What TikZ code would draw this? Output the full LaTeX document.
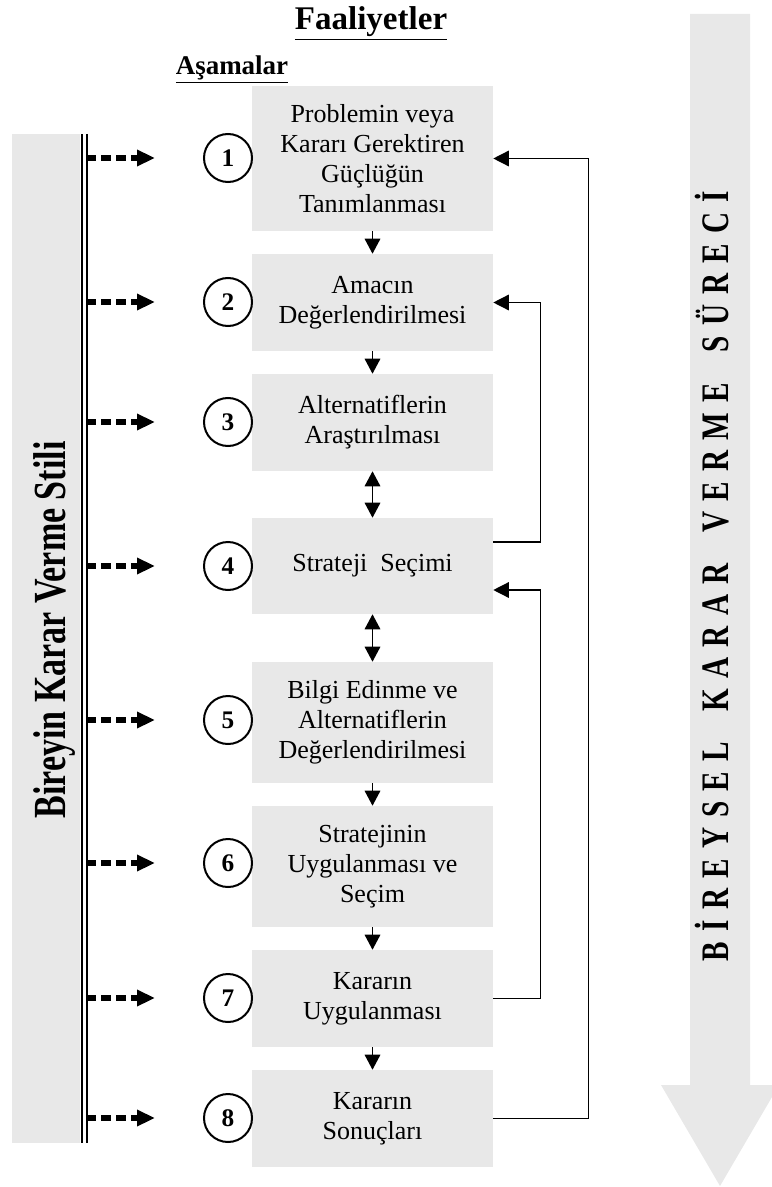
\documentclass[tikz,border=0pt]{standalone}
\usepackage{fontspec}
\setmainfont{Liberation Serif}
\usepackage{tikz}
\usetikzlibrary{arrows.meta, calc}
\definecolor{panel}{HTML}{E8E8E8}

\begin{document}
\begin{tikzpicture}[
  x=0.25mm, y=-0.25mm,
  stage/.style={rectangle, fill=panel, minimum width=60.25mm, inner sep=0pt, align=center,
                font=\fontsize{18.5}{21.3}\selectfont},
  numc/.style={circle, draw, line width=0.5mm, minimum size=12mm, inner sep=0pt,
               font=\bfseries\fontsize{18}{18}\selectfont},
  dotarr/.style={line width=1.5mm, dash pattern=on 2.5mm off 1.25mm,
                 -{Triangle[length=4.5mm, width=3.9mm]}, shorten >=12mm},
  e/.style={line width=0.35mm, -{Triangle[length=3.75mm, width=3.9mm]}},
  ee/.style={line width=0.35mm, {Triangle[length=3.75mm, width=3.9mm]}-{Triangle[length=3.75mm, width=3.9mm]}},
  fb/.style={line width=0.35mm, -{Triangle[length=3.9mm, width=3.9mm]}},
  hd/.style={anchor=base, font=\bfseries\fontsize{23.5}{26}\selectfont},
  subhd/.style={anchor=base, font=\bfseries\fontsize{19.2}{21}\selectfont},
  side/.style={rotate=90, anchor=base, inner sep=0pt}
]
\useasboundingbox (0,0) rectangle (772,1187);

% ---------------------------------------------- backgrounds
\fill[panel] (12,134) rectangle (80,1143);
\draw[line width=0.5mm, double distance=0.875mm] (84.25,134) -- (84.25,1143);
\fill[panel] (690,14) -- (750,14) -- (750,1085) -- (779,1085) -- (720,1186)
  -- (661,1085) -- (690,1085) -- cycle;

% ---------------------------------------------- headings
\node[hd]    (faal) at (371, 30) {\underline{Faaliyetler}};
\node[subhd] (asam) at (232, 75) {\underline{Aşamalar}};

\node[side, font=\bfseries\fontsize{32.7}{34}\selectfont] (stil) at (65, 630)
  {\scalebox{0.74}[1]{Bireyin Karar Verme Stili}};
\node[side, font=\bfseries\fontsize{27.7}{30}\selectfont] (surec) at (728, 576)
  {\scalebox{0.75}[1]{\spaceskip=0.35em B İ R E Y S E L\hspace{0.7em} K A R A R\hspace{0.7em}
   V E R M E\hspace{0.7em} S Ü R E C İ}};

% ---------------------------------------------- the stages
\node[stage, minimum height=36.25mm] (s1) at (372.5, 158.5)
  {Problemin veya\\ Kararı Gerektiren\\ Güçlüğün\\ Tanımlanması};
\node[stage, minimum height=24.25mm] (s2) at (372.5, 302.5) {Amacın\\ Değerlendirilmesi};
\node[stage, minimum height=24.25mm] (s3) at (372.5, 422.5) {Alternatiflerin\\ Araştırılması};
\node[stage, minimum height=24mm]    (s4) at (372.5, 566)   {Strateji~~Seçimi};
\node[stage, minimum height=30.25mm] (s5) at (372.5, 722.5)
  {Bilgi Edinme ve\\ Alternatiflerin\\ Değerlendirilmesi};
\node[stage, minimum height=30.25mm] (s6) at (372.5, 866.5)
  {Stratejinin\\ Uygulanması ve\\ Seçim};
\node[stage, minimum height=24.25mm] (s7) at (372.5, 998.5) {Kararın\\ Uygulanması};
\node[stage, minimum height=24.25mm] (s8) at (372.5, 1118.5) {Kararın\\ Sonuçları};

% ---------------------------------------------- step numbers
\node[numc] (n1) at (228, 158)  {1};
\node[numc] (n2) at (228, 302)  {2};
\node[numc] (n3) at (228, 422)  {3};
\node[numc] (n4) at (228, 566)  {4};
\node[numc] (n5) at (228, 720)  {5};
\node[numc] (n6) at (228, 863)  {6};
\node[numc] (n7) at (228, 998)  {7};
\node[numc] (n8) at (228, 1118) {8};

% ---------------------------------------------- style feeds every stage
\coordinate (d1) at (86, 158);
\coordinate (d2) at (86, 302);
\coordinate (d3) at (86, 422);
\coordinate (d4) at (86, 566);
\coordinate (d5) at (86, 720);
\coordinate (d6) at (86, 863);
\coordinate (d7) at (86, 998);
\coordinate (d8) at (86, 1118);

\draw[dotarr] (d1) -- (n1);
\draw[dotarr] (d2) -- (n2);
\draw[dotarr] (d3) -- (n3);
\draw[dotarr] (d4) -- (n4);
\draw[dotarr] (d5) -- (n5);
\draw[dotarr] (d6) -- (n6);
\draw[dotarr] (d7) -- (n7);
\draw[dotarr] (d8) -- (n8);

% ---------------------------------------------- flow between stages
\draw[e]  (s1) -- (s2);
\draw[e]  (s2) -- (s3);
\draw[ee] (s3) -- (s4);
\draw[ee] (s4) -- (s5);
\draw[e]  (s5) -- (s6);
\draw[e]  (s6) -- (s7);
\draw[e]  (s7) -- (s8);

% ---------------------------------------------- feedback loops
\draw[fb] ([yshift=6mm]s4.east) -- ++(47,0) |- (s2.east);
\draw[fb] (s7.east) -- ++(47,0) |- ([yshift=-6mm]s4.east);
\draw[fb] (s8.east) -- ++(95,0) |- (s1.east);

\end{tikzpicture}
\end{document}
